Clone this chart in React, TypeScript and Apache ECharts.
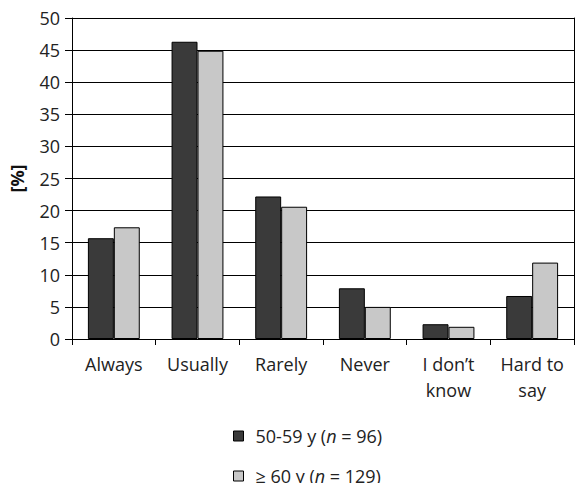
import React, { useEffect, useRef } from "react";
import * as echarts from "echarts";

const categories = ["Always", "Usually", "Rarely", "Never", "I don’t\nknow", "Hard to\nsay"];
const group5059 = [15.7, 46.3, 22.2, 7.9, 2.3, 6.7];
const group60 = [17.4, 44.9, 20.6, 5.0, 1.9, 11.9];
const yTicks = [0, 5, 10, 15, 20, 25, 30, 35, 40, 45, 50];
const seriesNames = ["50-59 y (n = 96)", "≥ 60 y (n = 129)"];

const FONT = "'Open Sans', 'Noto Sans', sans-serif";

export default function App() {
  const ref = useRef<HTMLDivElement>(null);
  useEffect(() => {
    if (!ref.current) return;
    const chart = echarts.init(ref.current, undefined, { renderer: "svg" });
    chart.setOption({
      animation: false,
      backgroundColor: "#fff",
      textStyle: { fontFamily: FONT },
      grid: { left: 71, right: 1, top: 18, bottom: 144, containLabel: false },
      legend: {
        orient: "vertical",
        left: 233,
        top: 427,
        height: 80,
        padding: 0,
        itemWidth: 10,
        itemHeight: 10,
        itemGap: 22,
        icon: "rect",
        itemStyle: { borderColor: "#000", borderWidth: 1 },
        data: seriesNames,
        formatter: (name: string) => {
          if (name === seriesNames[0]) return "{a|50-59 y (}{i|n}{a| = 96)}";
          return "{a|≥ 60 y (}{i|n}{a| = 129)}";
        },
        textStyle: {
          color: "#222",
          fontSize: 18,
          fontFamily: FONT,
          padding: [0, 0, 0, 7],
          rich: {
            a: { fontSize: 18, fontFamily: FONT, color: "#222", lineHeight: 16 },
            i: { fontSize: 18, fontFamily: FONT, color: "#222", fontStyle: "italic", lineHeight: 16 },
          },
        },
      },
      xAxis: {
        type: "category",
        data: categories,
        axisLine: { show: true, lineStyle: { color: "#000", width: 1 } },
        axisTick: { show: true, length: 6, lineStyle: { color: "#000" }, alignWithLabel: false },
        axisLabel: {
          color: "#222",
          fontSize: 18,
          fontFamily: FONT,
          margin: 12,
          lineHeight: 26,
          interval: 0,
        },
      },
      yAxis: [
        {
          type: "value",
          min: 0,
          max: 50,
          interval: 5,
          name: "[%]",
          nameLocation: "middle",
          nameGap: 46,
          nameRotate: 90,
          nameTextStyle: { color: "#111", fontSize: 18, fontWeight: "bold", fontFamily: FONT },
          axisLine: { show: true, lineStyle: { color: "#000", width: 1 } },
          axisTick: { show: true, length: 7, lineStyle: { color: "#000" } },
          axisLabel: {
            color: "#222",
            fontSize: 18,
            fontFamily: FONT,
            margin: 12,
            formatter: (v: number) => (yTicks.includes(v) ? String(v) : ""),
          },
          splitLine: { show: true, lineStyle: { color: "#000", width: 1 } },
        },
        {
          type: "value",
          min: 0,
          max: 50,
          interval: 5,
          position: "right",
          axisLine: { show: true, lineStyle: { color: "#000", width: 1 } },
          axisTick: { show: false },
          axisLabel: { show: false },
          splitLine: { show: false },
        },
      ],
      series: [
        {
          name: seriesNames[0],
          type: "bar",
          data: group5059,
          barGap: "0%",
          barCategoryGap: "38%",
          itemStyle: { color: "#3a3a3a", borderColor: "#000", borderWidth: 1 },
        },
        {
          name: seriesNames[1],
          type: "bar",
          data: group60,
          barGap: "0%",
          barCategoryGap: "38%",
          itemStyle: { color: "#c8c8c8", borderColor: "#000", borderWidth: 1 },
        },
      ],
    });
    return () => chart.dispose();
  }, []);
  return <div ref={ref} style={{ width: 575, height: 483, position: "absolute", left: 0, top: 0 }} />;
}
